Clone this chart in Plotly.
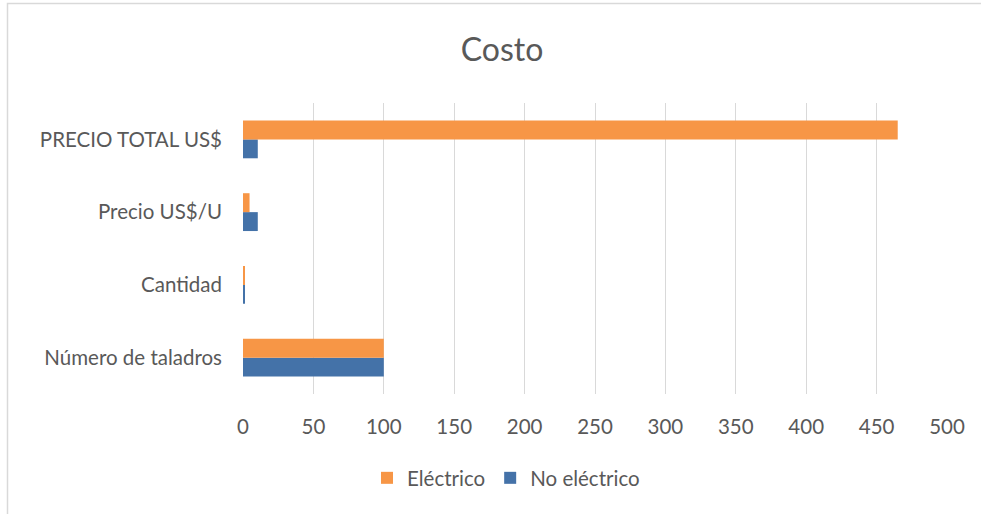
import plotly.graph_objects as go

categories = ["Número de taladros", "Cantidad", "Precio US$/U", "PRECIO TOTAL US$"]
no_electrico = [100, 1, 10.5, 10.5]
electrico = [100, 1, 4.65, 465]
x_ticks = [0, 50, 100, 150, 200, 250, 300, 350, 400, 450, 500]

W, H = 981, 514
L, R, T, B = 243, 34, 103, 120
pw, ph = W - L - R, H - T - B
FONT = "Lato"
GRAY = "#595959"
TICK_SIZE = 20.5

fig = go.Figure()
fig.add_trace(go.Bar(
    y=categories, x=no_electrico, orientation="h", name="No eléctrico",
    marker=dict(color="#4472a8", line=dict(width=0)),
))
fig.add_trace(go.Bar(
    y=categories, x=electrico, orientation="h", name="Eléctrico",
    marker=dict(color="#f79646", line=dict(width=0)),
))

# outer chart frame (light gray), extends past the right/bottom edges
fig.add_shape(
    type="rect", xref="paper", yref="paper",
    x0=(7.5 - L) / pw, x1=1.2,
    y0=-0.6, y1=1 + (T - 3.5) / ph,
    line=dict(color="#d9d9d9", width=1.5), fillcolor="rgba(0,0,0,0)",
    layer="below",
)

fig.update_layout(
    width=W, height=H,
    margin=dict(l=L, r=R, t=T, b=B),
    paper_bgcolor="white", plot_bgcolor="white",
    barmode="group", bargap=0.48, bargroupgap=0,
    title=dict(text="Costo", x=502 / W, xanchor="center", y=1 - 50 / H, yanchor="middle",
               font=dict(family=FONT, size=32, color=GRAY)),
    font=dict(family=FONT, color=GRAY, size=TICK_SIZE),
    xaxis=dict(range=[0, 500], tickvals=x_ticks, showgrid=True, gridcolor="#d9d9d9",
               gridwidth=1, zeroline=False, showline=False, ticks="",
               tickfont=dict(family=FONT, size=TICK_SIZE, color=GRAY), ticklabelstandoff=18,
               fixedrange=True),
    yaxis=dict(categoryorder="array", categoryarray=categories, showgrid=False,
               zeroline=False, showline=False, ticks="", ticklabelstandoff=20,
               tickfont=dict(family=FONT, size=TICK_SIZE, color=GRAY)),
    legend=dict(orientation="h", x=(506 - L) / pw, xanchor="center", y=-(478 - T - ph) / ph,
                yanchor="middle", traceorder="reversed",
                font=dict(family=FONT, size=TICK_SIZE, color=GRAY), itemwidth=30),
    showlegend=True,
)

fig.write_html("out.html")
